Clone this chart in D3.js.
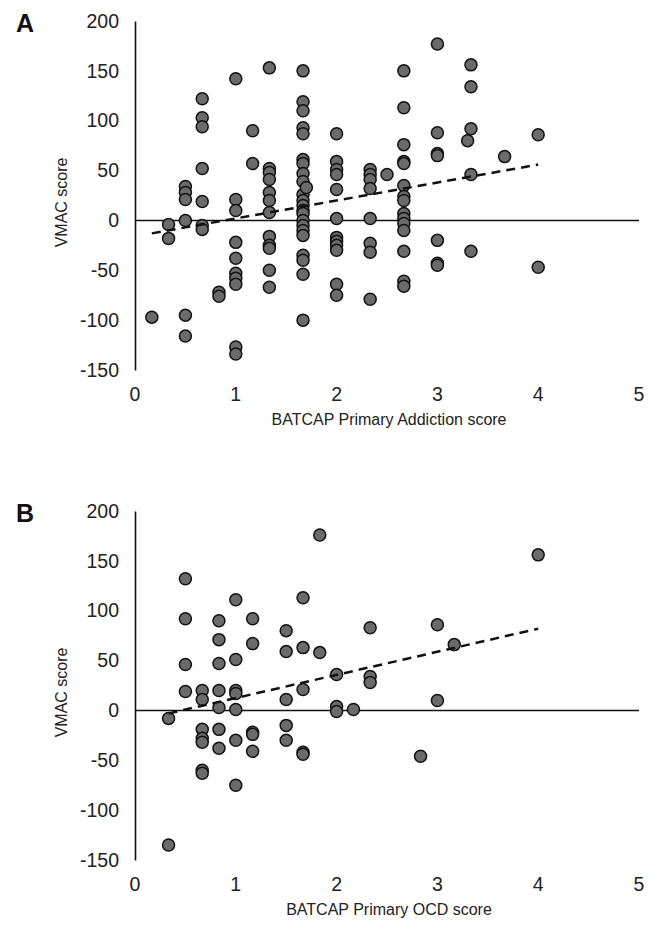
<!DOCTYPE html>
<html>
<head>
<meta charset="utf-8">
<script src="https://cdn.jsdelivr.net/npm/d3@7"></script>
<style>
  body { margin: 0; background: #fff; }
  svg text { font-family: "Liberation Sans", Arial, sans-serif; fill: #222; }
</style>
</head>
<body>
<svg id="chart" width="657" height="930"></svg>
<script>
// Panel A: BATCAP primary addiction score vs VMAC score
const addX = [0.167,
  0.333, 0.333,
  0.5, 0.5, 0.5, 0.5, 0.5, 0.5,
  0.667, 0.667, 0.667, 0.667, 0.667, 0.667, 0.667,
  0.833, 0.833,
  1, 1, 1, 1, 1, 1, 1, 1, 1, 1,
  1.167, 1.167,
  1.333, 1.333, 1.333, 1.333, 1.333, 1.333, 1.333, 1.333, 1.333, 1.333, 1.333, 1.333,
  1.667, 1.667, 1.667, 1.667, 1.667, 1.667, 1.667, 1.667, 1.667, 1.667, 1.667,
  1.667, 1.667, 1.667, 1.667, 1.667, 1.667, 1.667, 1.667, 1.667, 1.667, 1.667,
  1.7,
  2, 2, 2, 2, 2, 2, 2, 2, 2, 2, 2, 2,
  2.333, 2.333, 2.333, 2.333, 2.333, 2.333, 2.333, 2.333,
  2.5,
  2.667, 2.667, 2.667, 2.667, 2.667, 2.667, 2.667, 2.667, 2.667, 2.667, 2.667, 2.667, 2.667, 2.667, 2.667,
  3, 3, 3, 3, 3, 3, 3,
  3.3,
  3.333, 3.333, 3.333, 3.333, 3.333,
  3.667,
  4, 4]
const addY = [-97,
  -4, -18,
  34, 28, 21, 0, -95, -116,
  122, 103, 94, 52, 19, -5, -9,
  -72, -76,
  142, 21, 10, -22, -38, -53, -58, -64, -127, -134,
  90, 57,
  153, 52, 48, 41, 28, 20, 8, -16, -25, -28, -50, -67,
  150, 119, 110, 93, 87, 61, 57, 47, 39, 26, 20,
  15, 10, 7, 0, -5, -10, -15, -35, -40, -54, -100,
  33,
  87, 59, 51, 46, 31, 2, -17, -21, -25, -30, -64, -75,
  51, 46, 41, 32, 2, -23, -32, -79,
  46,
  150, 113, 76, 59, 57, 35, 24, 20, 7, 2, -3, -10, -31, -61, -66,
  177, 88, 67, 65, -20, -43, -45,
  80,
  156, 134, 92, 46, -31,
  64,
  86, -47]

// Panel B: BATCAP primary OCD score vs VMAC score
const ocdX = [0.333, 0.333,
  0.5, 0.5, 0.5, 0.5,
  0.667, 0.667, 0.667, 0.667, 0.667, 0.667, 0.667,
  0.833, 0.833, 0.833, 0.833, 0.833, 0.833, 0.833,
  1, 1, 1, 1, 1, 1, 1,
  1.167, 1.167, 1.167, 1.167, 1.167,
  1.5, 1.5, 1.5, 1.5, 1.5,
  1.667, 1.667, 1.667, 1.667, 1.667,
  1.833, 1.833,
  2, 2, 2,
  2.167,
  2.333, 2.333, 2.333,
  2.833,
  3, 3,
  3.167,
  4]
const ocdY = [-8, -135,
  132, 92, 46, 19,
  20, 11, -19, -28, -32, -60, -63,
  90, 71, 47, 20, 3, -19, -38,
  111, 51, 20, 17, 1, -30, -75,
  92, 67, -22, -24, -41,
  80, 59, 11, -15, -30,
  113, 63, 21, -42, -44,
  176, 58,
  36, 4, -1,
  1,
  83, 34, 28,
  -46,
  86, 10,
  66,
  156]

// fitted trend lines (start, end)
const addTrendX = [0.167, 4]
const addTrendY = [-13, 56]
const ocdTrendX = [0.333, 4]
const ocdTrendY = [-3, 82]

const xTicks = [0, 1, 2, 3, 4, 5]
const yTicks = [-150, -100, -50, 0, 50, 100, 150, 200]

const svg = d3.select("#chart")
const plotLeft = 135, plotRight = 639

const drawPanel = (letter, top, bottom, xs, ys, tx, ty, xTitle) => {
    const x = d3.scaleLinear().domain([0, 5]).range([plotLeft, plotRight])
    const y = d3.scaleLinear().domain([-150, 200]).range([bottom, top])
    const g = svg.append("g")

    g.append("text").text(letter)
        .attr("x", 16).attr("y", top + 11)
        .style("font-size", "25px").style("font-weight", "bold").style("fill", "#111")

    // y axis: plain line, labels only (hyphen minus like the original)
    const yAxis = g.append("g")
        .attr("transform", `translate(${plotLeft},0)`)
        .call(d3.axisLeft(y).tickValues(yTicks).tickSize(0).tickPadding(16).tickFormat(d => String(d)))
    yAxis.select(".domain").attr("stroke", "#111").attr("stroke-width", 1.6)
    yAxis.selectAll("text").style("font-size", "19.5px").style("fill", "#222")

    // zero line acts as the x axis, tick labels sit at the bottom
    g.append("line")
        .attr("x1", plotLeft).attr("x2", plotRight)
        .attr("y1", y(0)).attr("y2", y(0))
        .attr("stroke", "#111").attr("stroke-width", 1.6)

    g.selectAll("text.xtick")
        .data(xTicks)
        .join("text")
        .attr("class", "xtick")
        .attr("x", d => x(d))
        .attr("y", bottom + 31)
        .attr("text-anchor", "middle")
        .style("font-size", "19.5px")
        .text(d => d)

    g.append("text").text(xTitle)
        .attr("x", 389)
        .attr("y", bottom + 55)
        .attr("text-anchor", "middle")
        .style("font-size", "16px")

    g.append("text").text("VMAC score")
        .attr("transform", `translate(67,${y(18)}) rotate(-90)`)
        .attr("text-anchor", "middle")
        .style("font-size", "16px")

    const pts = xs.map((d, i) => ({x: d, y: ys[i]}))
    g.selectAll("circle")
        .data(pts)
        .join("circle")
        .attr("cx", d => x(d.x))
        .attr("cy", d => y(d.y))
        .attr("r", 6)
        .attr("fill", "#6b6b6b")
        .attr("stroke", "#111")
        .attr("stroke-width", 1.5)

    const trend = tx.map((d, i) => [x(d), y(ty[i])])
    g.append("path")
        .attr("d", d3.line()(trend))
        .attr("fill", "none")
        .attr("stroke", "#111")
        .attr("stroke-width", 2.5)
        .attr("stroke-dasharray", "9,6")
}

drawPanel("A", 21, 370, addX, addY, addTrendX, addTrendY, "BATCAP Primary Addiction score")
drawPanel("B", 511, 860, ocdX, ocdY, ocdTrendX, ocdTrendY, "BATCAP Primary OCD score")
</script>
</body>
</html>
